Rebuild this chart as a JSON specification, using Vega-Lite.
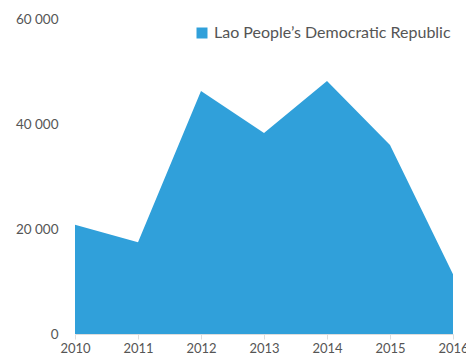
{
  "$schema": "https://vega.github.io/schema/vega-lite/v6.json",
  "width": 378,
  "height": 315,
  "autosize": {"type": "none"},
  "padding": {"left": 75, "top": 19, "right": 13, "bottom": 24},
  "background": "white",
  "data": {"values": [
    {"year": "2010", "value": 20800, "country": "Lao People’s Democratic Republic"},
    {"year": "2011", "value": 17500, "country": "Lao People’s Democratic Republic"},
    {"year": "2012", "value": 46300, "country": "Lao People’s Democratic Republic"},
    {"year": "2013", "value": 38300, "country": "Lao People’s Democratic Republic"},
    {"year": "2014", "value": 48200, "country": "Lao People’s Democratic Republic"},
    {"year": "2015", "value": 36000, "country": "Lao People’s Democratic Republic"},
    {"year": "2016", "value": 11400, "country": "Lao People’s Democratic Republic"}
  ]},
  "mark": {"type": "area", "opacity": 1},
  "encoding": {
    "x": {"field": "year", "type": "ordinal", "scale": {"type": "point", "padding": 0},
      "axis": {"title": null, "labelAngle": 0, "domainColor": "#dddddd", "tickColor": "#dddddd", "tickSize": 5, "labelPadding": 3, "labelFontSize": 13, "labelColor": "#555555", "labelFont": "Lato", "labelOverlap": false}},
    "y": {"field": "value", "type": "quantitative", "scale": {"domain": [0, 60000], "nice": false},
      "axis": {"title": null, "values": [0, 20000, 40000, 60000], "grid": false, "domain": false, "ticks": false, "labelPadding": 17, "labelFontSize": 13.5, "labelColor": "#555555", "labelFont": "Lato", "labelExpr": "replace(format(datum.value, ','), ',', ' ')"}},
    "color": {"field": "country", "type": "nominal", "scale": {"range": ["#30a0da"]},
      "legend": {"title": null, "orient": "none", "legendX": 119, "legendY": 6, "symbolType": "square", "symbolSize": 121, "symbolStrokeWidth": 0, "symbolOpacity": 1, "labelFontSize": 16, "labelColor": "#555555", "labelFont": "Lato", "labelLimit": 400, "padding": 0, "symbolOffset": 0}}
  },
  "config": {"view": {"stroke": null}}
}
